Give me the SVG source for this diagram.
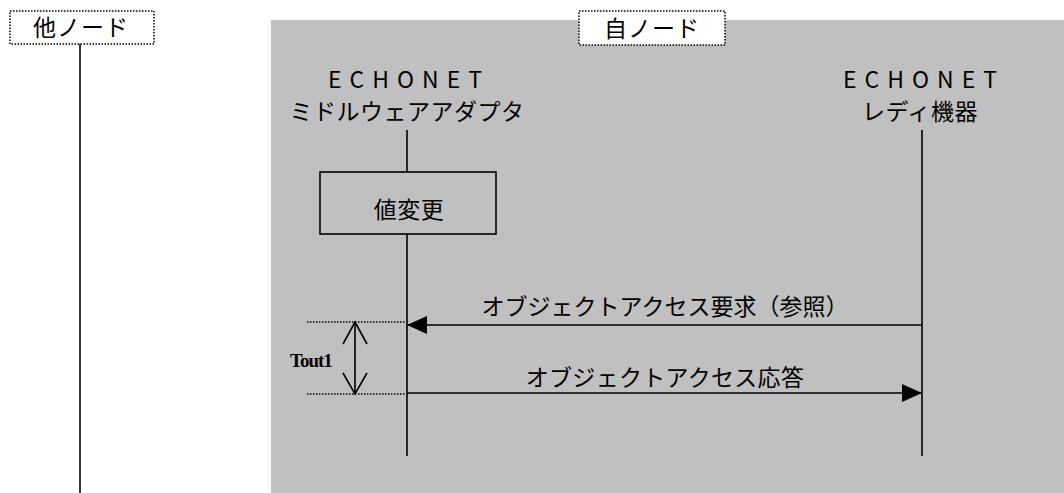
<svg xmlns="http://www.w3.org/2000/svg" width="1064" height="493" viewBox="0 0 1064 493">
<style>
.t{font-family:"Noto Sans CJK JP","Noto Sans",sans-serif;font-size:23px;fill:#000;text-anchor:middle}
.ln{stroke:#000;stroke-width:1.6;fill:none}
.dot{stroke:#000;stroke-width:1.5;stroke-dasharray:1.5 1.5;fill:none}
.lbl{fill:#fff;stroke:#000;stroke-width:1.5;stroke-dasharray:1.5 1.5}
</style>
<defs>
<marker id="fh" markerWidth="20" markerHeight="18" refX="20" refY="9" orient="auto" markerUnits="userSpaceOnUse">
<path d="M0,0 L20,9 L0,18 Z" fill="#000"/>
</marker>
</defs>
<rect x="271" y="20" width="793" height="473" fill="#c0c0c0"/>
<g id="other-node">
<line class="ln" x1="80" y1="44" x2="80" y2="493"/>
<rect class="lbl" x="10" y="11" width="144" height="33"/>
<text class="t" x="81" y="36" letter-spacing="1">他ノード</text>
</g>
<g id="self-node">
<rect class="lbl" x="579" y="11" width="146" height="34"/>
<text class="t" x="652" y="37" letter-spacing="1">自ノード</text>
</g>
<g id="middleware">
<text class="t" x="409" y="88" font-size="22" letter-spacing="8">ECHONET</text>
<text class="t" x="407" y="120" letter-spacing="0.5">ミドルウェアアダプタ</text>
<line class="ln" x1="407" y1="130" x2="407" y2="172"/>
<line class="ln" x1="407" y1="234" x2="407" y2="456"/>
</g>
<g id="ready-device">
<text class="t" x="924" y="88" font-size="22" letter-spacing="8">ECHONET</text>
<text class="t" x="920" y="120" letter-spacing="0.5">レディ機器</text>
<line class="ln" x1="922" y1="130" x2="922" y2="456"/>
</g>
<g id="value-change">
<rect x="320" y="172" width="176" height="62" fill="none" stroke="#000" stroke-width="1.6"/>
<text class="t" x="409" y="218" letter-spacing="0.5">値変更</text>
</g>
<g id="connectors">
<line class="ln" x1="922" y1="325" x2="407" y2="325" marker-end="url(#fh)"/>
<text class="t" x="665" y="315" letter-spacing="0">オブジェクトアクセス要求（参照）</text>
<line class="ln" x1="407" y1="393" x2="922" y2="393" marker-end="url(#fh)"/>
<text class="t" x="665" y="386" letter-spacing="0.3">オブジェクトアクセス応答</text>
</g>
<g id="tout1">
<line class="dot" x1="307" y1="322" x2="405" y2="322"/>
<line class="dot" x1="307" y1="394" x2="405" y2="394"/>
<line class="ln" x1="355" y1="322" x2="355" y2="394"/>
<polyline class="ln" points="343,344 355,322 367,344"/>
<polyline class="ln" points="343,373 355,394 367,373"/>
<text x="290" y="367" font-family="Liberation Serif,serif" font-size="19" font-weight="bold" letter-spacing="-1">Tout1</text>
</g>
</svg>
